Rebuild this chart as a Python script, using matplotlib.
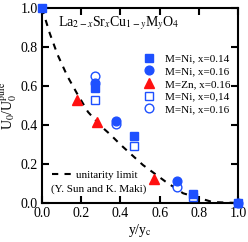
import matplotlib
matplotlib.use("Agg")
import matplotlib.pyplot as plt

# == DATA ==
ni14_x = [0.0, 0.27, 0.47, 0.77, 1.0]
ni14_y = [1.0, 0.59, 0.345, 0.045, 0.0]
ni16_x = [0.27, 0.38, 0.69, 1.0]
ni16_y = [0.615, 0.42, 0.115, 0.0]
zn16_x = [0.18, 0.28, 0.57]
zn16_y = [0.53, 0.415, 0.125]
ni14o_x = [0.27, 0.47, 0.77]
ni14o_y = [0.53, 0.29, 0.03]
ni16o_x = [0.27, 0.38, 0.69]
ni16o_y = [0.65, 0.405, 0.08]

# unitarity limit curve
ul_x = [0.0, 0.04, 0.08, 0.13, 0.18, 0.235, 0.30, 0.35, 0.40, 0.515, 0.63, 0.72, 0.87, 1.0]
ul_y = [1.0, 0.87, 0.76, 0.65, 0.56, 0.467, 0.395, 0.35, 0.30, 0.195, 0.11, 0.05, 0.005, 0.0]

xticks = [0.0, 0.2, 0.4, 0.6, 0.8, 1.0]
yticks = [0.0, 0.2, 0.4, 0.6, 0.8, 1.0]

labels = ["M=Ni, x=0.14", "M=Ni, x=0.16", "M=Zn, x=0.16",
          "M=Ni, x=0,14", "M=Ni, x=0.16"]

BLUE = "#1e50ff"
RED = "#ff1010"

# == PLOT ==
plt.rcParams["font.family"] = ["Liberation Serif", "DejaVu Serif"]
plt.rcParams["mathtext.fontset"] = "stix"

fig = plt.figure(figsize=(2.48, 2.42), dpi=100)
ax = fig.add_axes([0.169, 0.161, 0.791, 0.806])

ul, = ax.plot(ul_x, ul_y, ls=(0, (3, 3)), color="black", lw=1.5)

ms = 5.8
h1, = ax.plot(ni14_x, ni14_y, "s", color=BLUE, ms=ms, ls="none", clip_on=False, zorder=5)
h2, = ax.plot(ni16_x, ni16_y, "o", color=BLUE, ms=ms + 0.5, ls="none", clip_on=False, zorder=5)
h3, = ax.plot(zn16_x, zn16_y, "^", color=RED, ms=ms + 1, ls="none", clip_on=False, zorder=5)
h4, = ax.plot(ni14o_x, ni14o_y, "s", mfc="white", mec=BLUE, mew=1.0, ms=ms, ls="none", zorder=4)
h5, = ax.plot(ni16o_x, ni16o_y, "o", mfc="white", mec=BLUE, mew=1.0, ms=ms + 0.5, ls="none", zorder=4)

ax.set_xlim(0, 1.0)
ax.set_ylim(0, 1.0)
ax.set_xticks(xticks)
ax.set_yticks(yticks)
ax.set_xticklabels([f"{t:.1f}" for t in xticks])
ax.set_yticklabels([f"{t:.1f}" for t in yticks])
ax.tick_params(direction="in", length=5, width=1.5, labelsize=10,
               top=True, right=True, pad=3)
for s in ax.spines.values():
    s.set_linewidth(1.5)

ax.set_xlabel(r"y/y$_{\mathrm{c}}$", fontsize=10, labelpad=1)
ax.set_ylabel(r"U$_0$/U$_0^{\mathrm{pure}}$", fontsize=10, labelpad=1)

ax.text(0.08, 0.92, r"La$_{2-x}$Sr$_x$Cu$_{1-y}$M$_y$O$_4$",
        transform=ax.transAxes, fontsize=10, va="center")

leg1 = ax.legend([h1, h2, h3, h4, h5], labels,
                 loc="upper left", bbox_to_anchor=(0.52, 0.765), frameon=False,
                 fontsize=8, handlelength=1.0, handletextpad=0.9,
                 labelspacing=0.26, borderaxespad=0, borderpad=0)
ax.add_artist(leg1)

ax.legend([ul], ["unitarity limit"],
          loc="upper left", bbox_to_anchor=(0.05, 0.17), frameon=False,
          fontsize=8, handlelength=1.9, handletextpad=0.3,
          borderaxespad=0, borderpad=0)
ax.text(0.046, 0.07, "(Y. Sun and K. Maki)", transform=ax.transAxes,
        fontsize=8, va="center")

fig.savefig("out.png", dpi=100)
